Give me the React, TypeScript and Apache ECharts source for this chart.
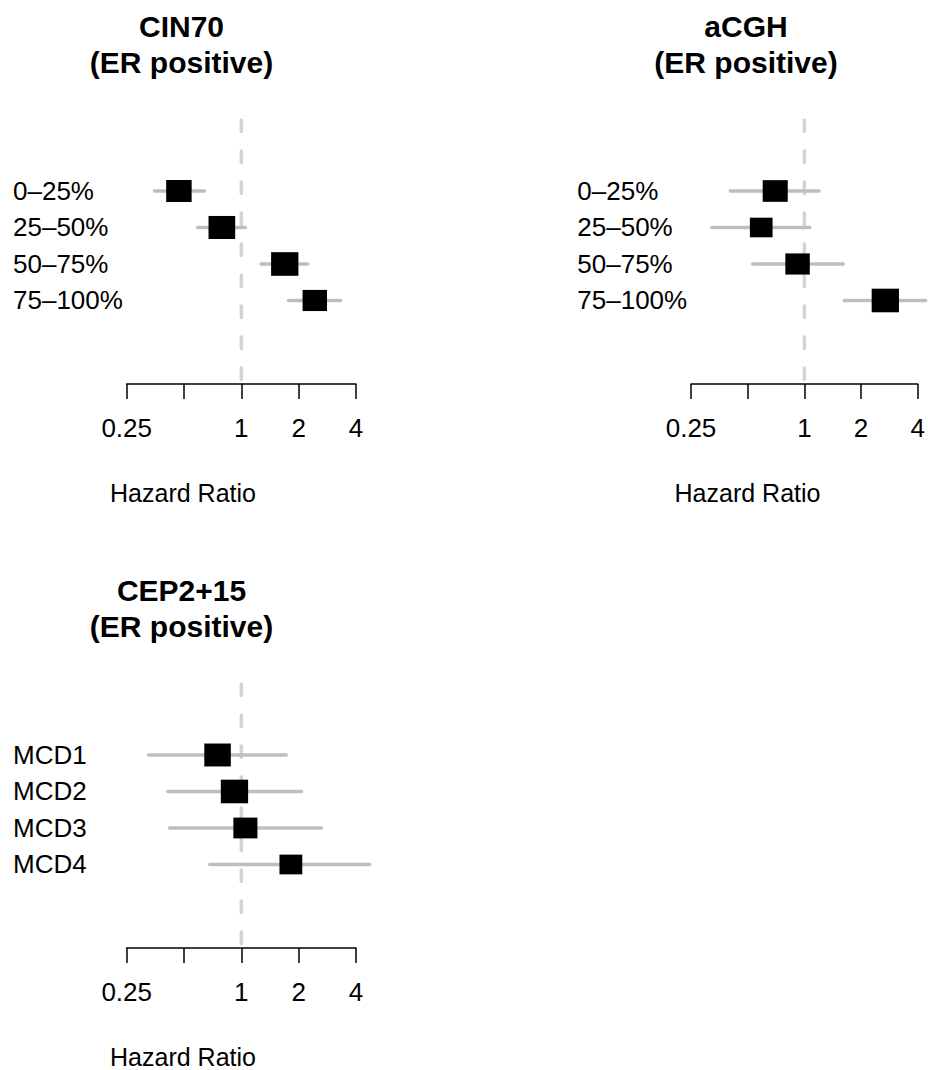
import React, { useEffect, useRef } from 'react';
import * as echarts from 'echarts';

// ---------- data ----------
const quartileLabels = ['0–25%', '25–50%', '50–75%', '75–100%'];
const mcdLabels = ['MCD1', 'MCD2', 'MCD3', 'MCD4'];

const cin70HR = [0.47, 0.79, 1.69, 2.43];
const cin70Lower = [0.35, 0.59, 1.27, 1.77];
const cin70Upper = [0.64, 1.05, 2.23, 3.32];

const acghHR = [0.70, 0.59, 0.92, 2.69];
const acghLower = [0.405, 0.323, 0.531, 1.63];
const acghUpper = [1.195, 1.067, 1.61, 4.4];

const cepHR = [0.75, 0.92, 1.05, 1.82];
const cepLower = [0.326, 0.411, 0.42, 0.682];
const cepUpper = [1.72, 2.07, 2.63, 4.72];

const titles = ['CIN70\n(ER positive)', 'aCGH\n(ER positive)', 'CEP2+15\n(ER positive)'];
const xAxisTitle = 'Hazard Ratio';
const xMin = 0.25;
const xMax = 4;
const hiddenTickValues = [0.5];

// ---------- layout / style ----------
const FONT = "'Liberation Sans', Arial, Helvetica, sans-serif";
const CI_COLOR = '#bebebe';
const REF_COLOR = '#d3d3d3';
const BOX_MAX = 27.3;
const BOX_ASPECT = 0.865;
const PLOT_W = 229.3;
const PLOT_H = 264;
const Y_MIN = -0.945;
const Y_MAX = 6.288;

const panels = [
  { left: 126.7, top: 120, title: titles[0], labels: quartileLabels, hr: cin70HR, lo: cin70Lower, hi: cin70Upper, cx: 181.5 },
  { left: 691, top: 120, title: titles[1], labels: quartileLabels, hr: acghHR, lo: acghLower, hi: acghUpper, cx: 746 },
  { left: 126.7, top: 684, title: titles[2], labels: mcdLabels, hr: cepHR, lo: cepLower, hi: cepUpper, cx: 181.5 },
];

function buildOption() {
  const grid: any[] = [];
  const xAxis: any[] = [];
  const yAxis: any[] = [];
  const series: any[] = [];
  const graphic: any[] = [];

  panels.forEach((p, i) => {
    grid.push({ left: p.left, top: p.top, width: PLOT_W, height: PLOT_H, containLabel: false });
    xAxis.push({
      gridIndex: i,
      type: 'log',
      logBase: 2,
      min: xMin,
      max: xMax,
      position: 'bottom',
      splitLine: { show: false },
      axisLine: { show: true, onZero: false, lineStyle: { color: '#000', width: 1.5 } },
      axisTick: { show: true, inside: false, length: 15, lineStyle: { color: '#000', width: 1.5 } },
      axisLabel: {
        show: true,
        margin: 31,
        fontSize: 26,
        fontFamily: FONT,
        color: '#000',
        formatter: (v: number) =>
          hiddenTickValues.some((h) => Math.abs(v - h) < 1e-9) ? '' : String(+v.toFixed(2)),
      },
    });
    yAxis.push({
      gridIndex: i,
      type: 'value',
      min: Y_MIN,
      max: Y_MAX,
      inverse: true,
      show: false,
    });

    const logWidths = p.lo.map((l, k) => Math.log2(p.hi[k]) - Math.log2(l));
    const minLogW = Math.min(...logWidths);

    series.push({
      type: 'line',
      xAxisIndex: i,
      yAxisIndex: i,
      data: [
        [1, Y_MIN],
        [1, Y_MAX],
      ],
      showSymbol: false,
      symbol: 'none',
      silent: true,
      z: 1,
      lineStyle: { color: REF_COLOR, width: 3.5, type: [11.5, 19.5], cap: 'round' },
    });

    const labels = p.labels;
    series.push({
      type: 'custom',
      xAxisIndex: i,
      yAxisIndex: i,
      z: 2,
      clip: false,
      encode: { x: 0, y: 1 },
      data: p.hr.map((h, k) => [h, k + 1, p.lo[k], p.hi[k]]),
      renderItem: (params: any, api: any) => {
        const idx = params.dataIndex;
        const hr = api.value(0);
        const row = api.value(1);
        const lo = api.value(2);
        const hi = api.value(3);
        const c = api.coord([hr, row]);
        const a = api.coord([lo, row]);
        const b = api.coord([hi, row]);
        const left = api.coord([xMin, row])[0];
        const logW = Math.log2(hi) - Math.log2(lo);
        const w = (BOX_MAX * minLogW) / logW;
        const hgt = w * BOX_ASPECT;
        return {
          type: 'group',
          children: [
            {
              type: 'line',
              shape: { x1: a[0], y1: a[1], x2: b[0], y2: b[1] },
              style: { stroke: CI_COLOR, lineWidth: 3.5, lineCap: 'round' },
            },
            {
              type: 'rect',
              shape: { x: c[0] - w / 2, y: c[1] - hgt / 2, width: w, height: hgt },
              style: { fill: '#000' },
            },
            {
              type: 'text',
              x: left - 113.7,
              y: c[1],
              style: {
                text: labels[idx],
                fontSize: 26,
                fontFamily: FONT,
                fill: '#000',
                align: 'left',
                verticalAlign: 'middle',
                textAlign: 'left',
                textVerticalAlign: 'middle',
              },
            },
          ],
        };
      },
    });

    const dy = p.top - 120;
    graphic.push({
      type: 'text',
      x: p.cx,
      y: 8 + dy,
      style: {
        text: p.title,
        fontSize: 30,
        fontWeight: 'bold',
        fontFamily: FONT,
        fill: '#000',
        lineHeight: 36,
        align: 'center',
        verticalAlign: 'top',
        textAlign: 'center',
        textVerticalAlign: 'top',
      },
    });
    graphic.push({
      type: 'text',
      x: p.cx + 1.5,
      y: 493 + dy,
      style: {
        text: xAxisTitle,
        fontSize: 25,
        lineHeight: 20,
        fontFamily: FONT,
        fill: '#000',
        align: 'center',
        verticalAlign: 'middle',
        textAlign: 'center',
        textVerticalAlign: 'middle',
      },
    });
  });

  return {
    animation: false,
    backgroundColor: '#fff',
    grid,
    xAxis,
    yAxis,
    series,
    graphic,
  };
}

export default function App() {
  const ref = useRef<HTMLDivElement>(null);
  useEffect(() => {
    document.body.style.margin = '0';
    if (!ref.current) return;
    const chart = echarts.init(ref.current, null, { renderer: 'svg' });
    chart.setOption(buildOption());
    return () => chart.dispose();
  }, []);
  return <div ref={ref} style={{ width: 928, height: 1070 }} />;
}
